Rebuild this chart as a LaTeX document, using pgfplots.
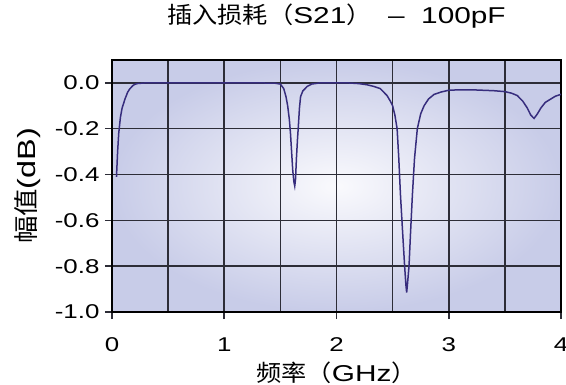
\documentclass[border=0pt]{standalone}
\usepackage{pgfplots}
\pgfplotsset{compat=1.18}
\usepackage{fontspec}
\setmainfont{Liberation Sans}[FakeStretch=1.3]
\newfontfamily\cjk{Noto Sans CJK SC}[FakeStretch=1.1]
\definecolor{curve}{RGB}{55,45,125}
\definecolor{bgout}{RGB}{200,204,232}
\definecolor{bgin}{RGB}{250,250,253}
\definecolor{gridc}{RGB}{45,45,55}
\begin{document}
\begin{tikzpicture}
\useasboundingbox (-112bp,-73bp) rectangle (454bp,312bp);
\begin{axis}[
  at={(0,0)}, anchor=south west,
  scale only axis,
  width=449bp, height=252bp,
  xmin=0, xmax=4, ymin=-1.0, ymax=0.1,
  xtick={0,1,2,3,4},
  minor x tick num=1,
  ytick={-1.0,-0.8,-0.6,-0.4,-0.2,0.0},
  yticklabels={-1.0,-0.8,-0.6,-0.4,-0.2,0.0},
  grid=both,
  major grid style={gridc, line width=1.5bp},
  minor grid style={gridc, line width=1.5bp},
  minor tick length=0pt,
  major tick length=7bp,
  tick align=outside,
  tick style={gridc, line width=1.5bp},
  xtick pos=bottom, ytick pos=left,
  axis line style={black, line width=2.2bp},
  axis background/.style={shading=radial, inner color=bgin, outer color=bgout},
  /pgf/number format/assume math mode=true,
  ticklabel style={font=\fontsize{20}{22}\selectfont},
  xticklabel style={anchor=center, yshift=-26bp},
  yticklabel style={anchor=east, xshift=-2bp},
  title={{\cjk 插入损耗（}S21{\cjk ）}\ \ –\ \ 100pF},
  title style={font=\fontsize{23}{25}\selectfont, at={(axis description cs:0.5,1)}, anchor=center, yshift=38bp},
  xlabel={{\cjk 频率（}GHz{\cjk ）}},
  xlabel style={font=\fontsize{23}{25}\selectfont, at={(axis description cs:0.5,0)}, anchor=center, yshift=-61bp},
  ylabel={{\cjk 幅值}(dB)},
  ylabel style={font=\fontsize{25}{27}\selectfont, at={(axis description cs:0,0.5)}, anchor=center, yshift=84bp},
]
\addplot[curve, line width=1.5bp] coordinates {
(0.04,-0.41)(0.05,-0.3)(0.06,-0.22)(0.075,-0.15)(0.09,-0.11)(0.116,-0.07)(0.14,-0.04)(0.16,-0.025)(0.19,-0.01)(0.22,-0.003)(0.3,0)
(0.6,0)(1.0,0)(1.3,0)
(1.45,-0.001)(1.5,-0.005)(1.53,-0.025)(1.55,-0.06)(1.565,-0.1)(1.58,-0.16)(1.59,-0.22)(1.6,-0.3)(1.61,-0.38)(1.62,-0.43)(1.628,-0.45)(1.635,-0.42)(1.643,-0.33)(1.652,-0.25)(1.66,-0.19)(1.67,-0.11)(1.68,-0.06)(1.7,-0.035)(1.74,-0.015)(1.78,-0.005)(1.85,0)
(2.1,0)(2.2,-0.003)(2.27,-0.008)(2.33,-0.015)(2.39,-0.025)(2.45,-0.055)(2.48,-0.08)(2.5,-0.1)(2.52,-0.14)(2.54,-0.2)(2.555,-0.33)(2.57,-0.49)(2.59,-0.66)(2.607,-0.8)(2.618,-0.88)(2.625,-0.915)(2.632,-0.88)(2.646,-0.8)(2.66,-0.65)(2.676,-0.49)(2.695,-0.33)(2.72,-0.2)(2.75,-0.135)(2.78,-0.1)(2.82,-0.07)(2.87,-0.05)(2.93,-0.04)(3.0,-0.032)
(3.1,-0.03)(3.2,-0.03)(3.3,-0.032)(3.4,-0.034)(3.5,-0.038)(3.56,-0.045)(3.61,-0.055)(3.66,-0.08)(3.7,-0.11)(3.73,-0.14)(3.76,-0.155)(3.79,-0.135)(3.82,-0.11)(3.86,-0.085)(3.91,-0.07)(3.95,-0.058)(4.0,-0.05)
};
\end{axis}
\end{tikzpicture}
\end{document}
